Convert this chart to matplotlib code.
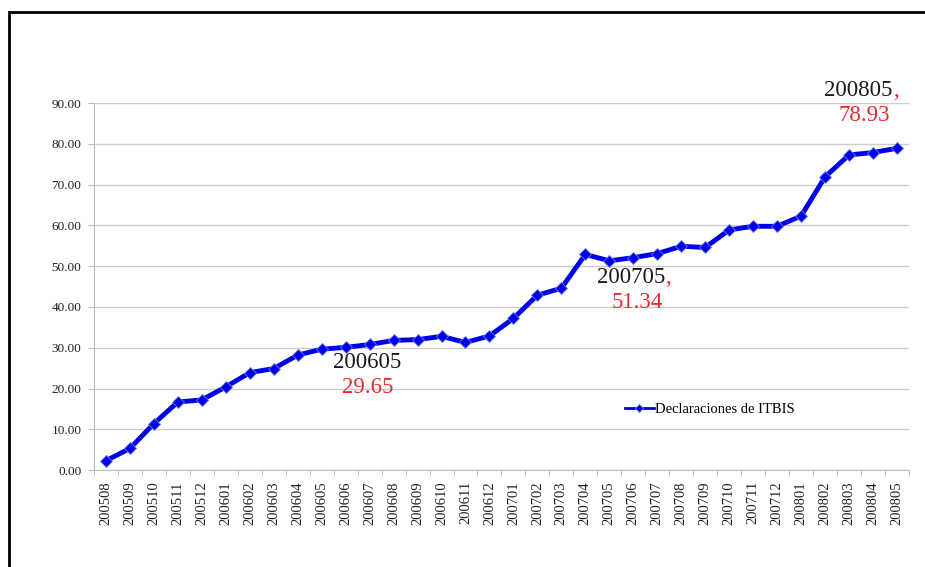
import matplotlib.pyplot as plt
from matplotlib.patches import Rectangle

# Datos
meses = ['200508', '200509', '200510', '200511', '200512', '200601', '200602', '200603',
         '200604', '200605', '200606', '200607', '200608', '200609', '200610', '200611',
         '200612', '200701', '200702', '200703', '200704', '200705', '200706', '200707',
         '200708', '200709', '200710', '200711', '200712', '200801', '200802', '200803',
         '200804', '200805']
declaraciones = [2.3, 5.3, 11.4, 16.7, 17.2, 20.4, 23.9, 24.9,
                 28.2, 29.65, 30.1, 30.8, 31.8, 32.0, 32.8, 31.3,
                 32.9, 37.2, 42.9, 44.6, 52.9, 51.34, 52.1, 53.1,
                 54.9, 54.6, 58.9, 59.8, 59.8, 62.3, 71.9, 77.3,
                 77.9, 78.93]
destacados = ['200605', '200705', '200805']

plt.rcParams['font.family'] = ['Liberation Serif', 'DejaVu Serif']

fig = plt.figure(figsize=(9.25, 5.67), dpi=100)
ax = fig.add_axes([0.1016, 0.171, 0.881, 0.647])

x = list(range(len(meses)))
ax.plot(x, declaraciones, color='#0000e6', linewidth=3.5, marker='D', markersize=6.5,
        markeredgecolor='#6a7fe0', markeredgewidth=0.6, label='Declaraciones de ITBIS',
        zorder=3)

ax.set_xlim(-0.5, len(meses) - 0.5)
ax.set_ylim(0, 90)
ax.set_yticks(range(0, 91, 10))
ax.set_yticklabels(['%.2f' % v for v in range(0, 91, 10)], fontsize=9.5, color='#222222')
ax.set_xticks(x)
ax.set_xticklabels(meses, rotation=90, fontsize=10.5, color='#222222')
ax.set_xticks([i - 0.5 for i in range(len(meses) + 1)], minor=True)
ax.tick_params(axis='x', which='major', length=0, pad=8)
ax.tick_params(axis='x', which='minor', length=4, color='#bbbbbb', direction='out')
ax.tick_params(axis='y', length=4, color='#bbbbbb', pad=5)

ax.grid(axis='y', color='#cccccc', linewidth=1)
ax.set_axisbelow(True)
for s in ['top', 'right']:
    ax.spines[s].set_visible(False)
ax.spines['left'].set_color('#bbbbbb')
ax.spines['bottom'].set_color('#bbbbbb')

# Etiquetas de datos
etiquetas = {
    '200605': (1.9, -3.3, ''),
    '200705': (0.9, -4.0, ','),
    '200805': (-1.6, 14.3, ','),
}
for mes in destacados:
    i = meses.index(mes)
    v = declaraciones[i]
    dx, dy, coma = etiquetas[mes]
    t = ax.text(i + dx, v + dy, mes, fontsize=16.5, color='#1a1a1a', ha='center', va='center')
    if coma:
        ax.annotate(',', xy=(1, 0), xycoords=t, fontsize=16.5, color='#e8292f',
                    ha='left', va='bottom')
    ax.text(i + dx + (0.25 if coma else 0), v + dy - 6.2, '%.2f' % v, fontsize=16.5,
            color='#e8292f', ha='center', va='center')

leg = ax.legend(loc='center left', bbox_to_anchor=(0.635, 0.165), frameon=False,
                fontsize=10.5, handlelength=2.0, handletextpad=0.1, markerscale=0.6)
for h in leg.get_lines():
    h.set_linewidth(2)

# Marco
fig.patches.append(Rectangle((9 / 925, -0.1), 1.2, (567 - 12) / 567 + 0.1, fill=False,
                             edgecolor='black', linewidth=2, transform=fig.transFigure))

fig.savefig('out.png', dpi=100)
